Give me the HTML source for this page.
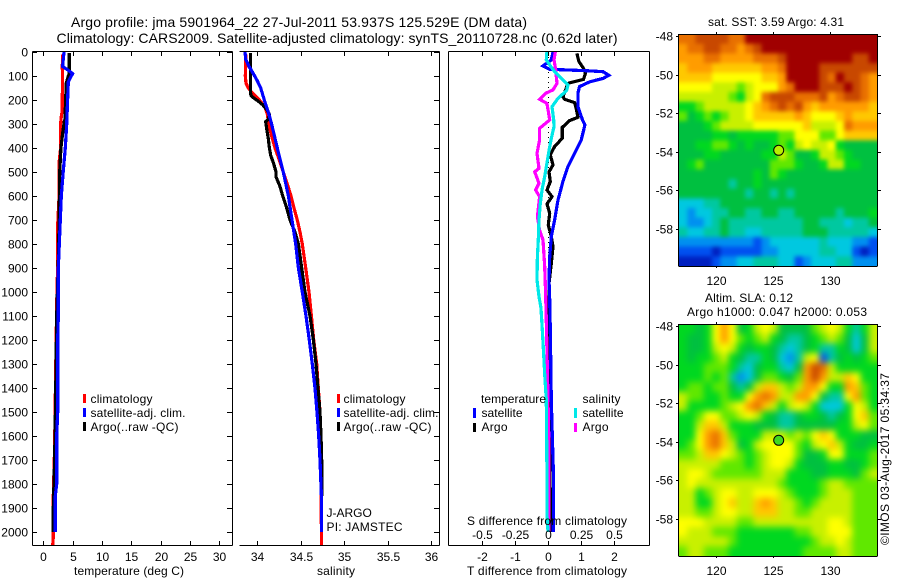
<!DOCTYPE html>
<html>
<head>
<meta charset="utf-8">
<title>Argo profile</title>
<style>
html,body{margin:0;padding:0;background:#fff;}
svg{display:block;}
text{font-family:"Liberation Sans",sans-serif;font-size:12px;fill:#000;}
.t{font-size:14px;}
</style>
</head>
<body>
<svg id="chart" xmlns="http://www.w3.org/2000/svg" width="900" height="580" viewBox="0 0 900 580">
<defs>
<clipPath id="clipA"><rect x="679" y="34" width="198" height="232"/></clipPath>
<clipPath id="clipB"><rect x="679" y="324" width="198" height="232"/></clipPath>
<filter id="softA" x="-5%" y="-5%" width="110%" height="110%" color-interpolation-filters="sRGB"><feGaussianBlur stdDeviation="2"/></filter>
<filter id="softB" x="-5%" y="-5%" width="110%" height="110%" color-interpolation-filters="sRGB"><feGaussianBlur stdDeviation="3.5"/></filter>
</defs>
<rect x="0" y="0" width="900" height="580" fill="#fff"/>
<text class="t" x="299" y="27" text-anchor="middle" textLength="456">Argo profile: jma 5901964_22 27-Jul-2011 53.937S 125.529E (DM data)</text>
<text class="t" x="337" y="43" text-anchor="middle" textLength="561">Climatology: CARS2009. Satellite-adjusted climatology: synTS_20110728.nc (0.62d later)</text>

<g id="p1"></g>
<g id="p2"></g>
<g id="p3"></g>
<g id="m1"></g>
<g id="m2"></g>

<text x="129" y="575" text-anchor="middle" textLength="110">temperature (deg C)</text>
<text x="336" y="575" text-anchor="middle" textLength="38">salinity</text>
<text x="547" y="575" text-anchor="middle" textLength="160">T difference from climatology</text>
<text x="547" y="525" text-anchor="middle" textLength="160">S difference from climatology</text>

<g>
<rect x="83" y="394" width="3" height="9" fill="#f00"/>
<text x="90.5" y="403" textLength="62">climatology</text>
<rect x="83" y="408" width="3" height="9" fill="#00f"/>
<text x="90.5" y="417" textLength="95">satellite-adj. clim.</text>
<rect x="83" y="422" width="3" height="9" fill="#000"/>
<text x="90.5" y="431" textLength="88">Argo(..raw -QC)</text>
</g>
<g>
<rect x="337" y="394" width="3" height="9" fill="#f00"/>
<text x="343.5" y="403" textLength="62">climatology</text>
<rect x="337" y="408" width="3" height="9" fill="#00f"/>
<text x="343.5" y="417" textLength="95">satellite-adj. clim.</text>
<rect x="337" y="422" width="3" height="9" fill="#000"/>
<text x="343.5" y="431" textLength="88">Argo(..raw -QC)</text>
</g>
<text x="326.5" y="517">J-ARGO</text>
<text x="326.5" y="531" textLength="76">PI: JAMSTEC</text>
<g>
<text x="481" y="403" textLength="65">temperature</text>
<rect x="473" y="408" width="3" height="10" fill="#00f"/>
<text x="481.5" y="417" textLength="41">satellite</text>
<rect x="473" y="423" width="3" height="9" fill="#000"/>
<text x="481.5" y="431" textLength="26">Argo</text>
<text x="582.5" y="403" textLength="38">salinity</text>
<rect x="574" y="408" width="3" height="10" fill="#00e8e8"/>
<text x="582.5" y="417" textLength="41">satellite</text>
<rect x="574" y="423" width="3" height="9" fill="#f0f"/>
<text x="582.5" y="431" textLength="26">Argo</text>
</g>

<text x="776" y="26" text-anchor="middle" textLength="136">sat. SST: 3.59 Argo: 4.31</text>
<text x="749" y="302" text-anchor="middle" textLength="88">Altim. SLA: 0.12</text>
<text x="777" y="316" text-anchor="middle" textLength="180">Argo h1000: 0.047 h2000: 0.053</text>
<text transform="translate(889,545) rotate(-90)" textLength="172">©IMOS 03-Aug-2017 05:34:37</text>
</svg>
<script>
// ---------- profile data ----------
var depthTicks = [0,100,200,300,400,500,600,700,800,900,1000,1100,1200,1300,1400,1500,1600,1700,1800,1900,2000];
var tempTicks = [0,5,10,15,20,25,30];
var salTicks = [34,34.5,35,35.5,36];
var salTickLabels = ['34','34.5','35','35.5','36'];
var tDiffTicks = [-2,-1,0,1,2];
var sDiffTickLabels = ['-0.5','-0.25','0','0.25','0.5'];
var sDiffTicks = [-0.5,-0.25,0,0.25,0.5];
var lonTicks = [120,125,130];
var latTicks = [-48,-50,-52,-54,-56,-58];

var tempClimZ = [10,60,100,250,260,300,400,460,600,720,880,1050,1350,1650,1850,2020,2055];
var tempClim = [3.3,3.25,3.27,3.22,3.1,2.95,2.95,2.7,2.7,2.45,2.45,2.28,2.1,1.93,1.7,1.7,1.6];
var tempSatZ = [0,60,75,90,105,125,200,300,400,500,600,700,900,1100,1200,1500,1600,1800,1850,2000];
var tempSat = [3.53,3.3,4.2,5.0,4.67,4.27,4.15,4.0,3.76,3.4,3.07,2.9,2.56,2.56,2.45,2.45,2.28,2.28,2.05,2.05];
var tempArgoZ = [5,90,100,130,200,280,290,340,400,500,700,880,1100,1450,1700,1900,2000];
var tempArgo = [4.44,4.44,4.27,3.92,3.8,3.7,3.58,3.3,3.0,2.8,2.7,2.56,2.28,2.1,1.93,1.7,1.7];

var salClimZ = [10,60,100,130,150,175,200,230,260,300,350,400,450,500,550,600,650,700,750,800,900,1000,1100,1200,1300,1400,1500,1700,2000,2055];
var salClim = [33.874,33.870,33.866,33.874,33.900,33.958,34.027,34.092,34.119,34.134,34.168,34.207,34.256,34.302,34.348,34.390,34.425,34.463,34.494,34.520,34.559,34.597,34.624,34.651,34.685,34.704,34.723,34.735,34.739,34.739];
var salSatZ = [0,30,60,90,120,150,200,250,300,400,500,600,700,800,900,1000,1100,1200,1300,1400,1500,1600,1700,1850,2000];
var salSat = [33.862,33.870,33.908,33.958,34.004,34.042,34.084,34.130,34.168,34.233,34.302,34.360,34.402,34.444,34.475,34.520,34.563,34.601,34.635,34.666,34.689,34.708,34.723,34.739,34.739];
var salArgoZ = [5,170,180,190,205,220,240,260,280,290,320,360,400,430,470,500,520,560,600,650,700,750,800,900,1000,1100,1200,1300,1400,1500,1600,1750,1850];
var salArgo = [33.927,33.927,33.93,33.958,34.015,34.065,34.111,34.142,34.130,34.100,34.111,34.130,34.142,34.157,34.195,34.218,34.218,34.264,34.295,34.341,34.379,34.436,34.475,34.513,34.551,34.608,34.647,34.677,34.700,34.723,34.735,34.746,34.746];

var dTSatZ = [0,33,58,72,78,82,97,110,124,144,172,228,283,304,367,422,478,540,617,700,769,853,950,1033,1158,1450,1554,1783,2000];
var dTSat = [0.15,0.10,-0.15,0.05,1.16,1.66,1.83,1.66,1.26,0.95,0.90,0.90,1.04,1.11,1.0,0.80,0.60,0.45,0.30,0.20,0.10,0.05,0.03,0.05,0.07,0.10,0.12,0.17,0.16];
var dTArgoZ = [6,40,68,89,114,128,131,158,186,197,211,236,272,286,314,359,394,428,471,499,540,575,603,633,672,721,769,811,881,964,1061,1200,1550,1900,2000];
var dTArgo = [0.87,0.93,1.07,1.13,1.07,0.67,0.60,0.53,0.45,0.50,0.80,0.85,0.90,0.65,0.43,0.43,0.20,0.07,0.15,0.03,0.07,-0.03,0.12,-0.03,0.05,0.01,0.10,0.15,0.10,0.03,0.03,0.04,0.05,0.07,0.07];
var dSSatZ = [0,33,54,82,110,138,161,193,228,283,311,360,408,464,519,568,631,700,783,853,950,1019,1068,1158,1255,1358,1450,1728,1922,2000];
var dSSat = [-0.008,-0.013,0.013,0.05,0.10,0.15,0.14,0.075,0.03,0.043,0.045,0.025,0.008,-0.008,-0.025,-0.043,-0.058,-0.068,-0.073,-0.08,-0.083,-0.068,-0.053,-0.043,-0.033,-0.023,-0.013,-0.008,-0.008,0];
var dSArgoZ = [0,33,75,131,158,172,197,214,249,283,318,367,422,485,499,547,575,603,686,742,783,894,1006,1117,1311,1589,1839,2000];
var dSArgo = [0.055,0.045,0.058,0.068,0.038,-0.018,-0.063,-0.008,0.003,0.013,-0.063,-0.063,-0.083,-0.068,-0.1,-0.068,-0.093,-0.063,-0.08,-0.063,-0.038,-0.025,-0.018,-0.013,-0.005,0.005,0.008,0.008];
var zeroLineZ = [0,1000];

// ---------- map data (colour-class per cell, north to south) ----------
var sstGrid = [
[12,12,13,13,13,13,12,12,14,14,14,14,14,14,14,14,14,14,14,14,14,14,14,14],
[11,12,12,13,13,12,12,11,12,13,14,14,14,14,14,14,14,14,14,14,14,14,14,14],
[11,11,11,12,12,11,11,11,11,12,12,12,13,14,14,14,14,14,14,14,14,13,13,14],
[10,11,11,11,10,10,10,10,10,10,11,11,12,14,14,14,14,13,13,13,13,13,13,13],
[10,10,10,10,9,9,9,9,9,9,10,10,11,14,14,14,14,13,12,14,13,13,12,11],
[9,9,9,9,8,8,8,7,8,9,9,9,11,12,14,14,14,13,13,13,14,13,12,11],
[8,8,8,8,8,8,7,6,8,9,12,13,13,13,12,12,12,13,11,12,13,13,12,11],
[6,6,7,8,8,8,8,8,9,10,11,12,13,12,13,11,10,11,11,11,11,11,11,10],
[7,5,6,7,6,7,8,8,9,10,10,10,10,10,11,10,9,9,9,10,11,10,10,10],
[5,5,5,6,7,8,8,8,8,9,9,9,9,9,9,10,8,8,8,9,12,11,11,11],
[5,5,5,5,6,6,5,6,6,6,6,6,7,7,9,9,9,7,7,9,10,10,10,10],
[5,5,6,6,7,7,6,5,6,5,5,6,7,6,8,9,8,8,9,6,5,5,5,5],
[5,5,5,6,6,5,5,5,5,5,6,6,8,7,5,5,6,8,8,7,6,5,5,5],
[5,6,7,5,5,5,5,5,5,5,5,7,7,7,6,5,5,6,8,8,6,6,5,5],
[5,5,5,5,5,5,5,5,5,6,5,7,6,5,5,5,5,5,5,5,5,5,5,5],
[5,5,5,5,5,5,4,5,5,6,5,5,5,5,5,5,5,5,5,5,5,5,5,5],
[5,5,5,5,5,5,5,5,4,5,5,4,5,4,5,5,5,5,5,5,5,5,5,5],
[3,3,3,4,4,5,5,5,5,5,5,5,5,5,5,5,5,5,5,5,5,5,5,5],
[3,2,3,3,4,4,5,5,4,4,5,5,4,4,5,5,5,5,5,4,5,5,5,6],
[3,2,2,3,4,5,4,4,4,4,4,4,4,4,4,5,5,4,4,4,3,4,4,5],
[4,3,3,4,4,5,4,4,3,3,4,4,4,4,4,5,5,5,4,4,4,4,4,3],
[2,2,2,2,2,2,2,2,2,1,2,3,3,3,3,3,3,4,3,3,3,2,2,1],
[1,1,1,1,0,1,1,1,1,1,2,2,3,3,3,3,3,4,4,3,3,1,0,1],
[0,0,0,0,1,2,2,3,3,4,4,4,3,3,1,2,3,3,3,4,4,2,2,2]
];
var slaGrid = [
[6,6,5,6,9,11,9,5,6,8,9,8,5,5,5,5,7,8,9,8,6,4,6,8],
[6,5,5,6,9,11,9,7,6,7,8,6,5,4,4,5,6,7,8,7,5,3,5,8],
[6,5,5,6,8,9,8,6,5,6,6,5,4,3,4,5,6,4,4,6,5,3,5,8],
[6,5,6,6,7,8,6,5,4,4,6,5,3,2,4,8,9,1,4,5,6,5,6,7],
[6,6,6,7,7,7,6,4,3,5,6,6,4,3,5,11,13,12,8,6,6,6,6,6],
[6,6,6,7,6,7,4,2,3,5,7,7,6,5,7,11,13,11,8,8,10,9,6,6],
[6,7,7,6,7,7,5,4,5,8,10,10,8,7,8,11,11,9,6,6,11,10,7,6],
[8,7,7,6,6,7,6,6,9,11,12,11,8,8,11,11,9,5,4,4,9,11,7,6],
[8,6,6,6,6,7,8,9,11,12,10,8,6,8,9,8,6,3,3,3,6,9,8,6],
[6,6,7,9,9,7,7,8,9,8,6,5,4,4,5,6,6,5,4,5,6,9,10,7],
[6,6,8,10,10,8,6,6,6,5,5,5,4,4,5,5,5,5,5,6,6,8,9,7],
[6,6,9,11,12,10,7,6,6,6,8,8,8,7,8,7,9,10,9,6,6,6,5,5],
[6,7,9,11,12,10,8,5,6,8,9,9,9,9,7,6,8,9,10,8,6,5,5,6],
[7,7,8,10,10,9,8,7,6,7,8,9,9,9,7,5,5,6,9,9,6,6,6,7],
[8,8,8,8,8,7,7,7,6,7,8,9,9,8,6,5,5,5,6,6,5,5,6,7],
[8,9,9,8,7,7,7,7,7,7,8,8,8,6,6,6,5,5,6,6,6,5,7,8],
[8,9,8,8,8,8,8,8,8,8,8,8,7,6,6,6,6,7,8,8,7,7,7,7],
[8,8,6,7,8,9,9,8,8,9,9,9,8,7,6,6,6,7,8,8,8,7,7,7],
[8,8,6,6,8,9,10,8,8,10,11,10,8,8,7,6,7,8,8,8,8,7,7,7],
[8,8,7,7,8,9,9,8,8,10,10,10,8,8,7,7,8,8,8,8,8,7,7,7],
[9,9,9,8,8,8,8,7,7,8,8,8,8,8,8,8,8,8,9,9,8,7,7,7],
[9,8,8,8,7,7,7,6,6,6,6,6,6,6,7,7,8,8,9,9,9,7,7,7],
[8,8,8,8,8,8,7,6,6,6,6,6,6,6,6,6,7,8,8,9,8,7,7,7],
[7,8,8,7,7,7,6,6,6,6,6,6,6,6,6,7,7,7,7,8,8,7,7,7]
];
var colorClasses = ['#0020c0','#0050f0','#0090f0','#00c8e0','#00c8a0','#00c040','#00d820','#60e800','#c8f000','#ffff00','#ffc800','#ff9c00','#e87000','#c84800','#a00000'];
var profileLon = [125.529];
var profileLat = [-53.937];

// ---------- helpers ----------
var NS = 'http://www.w3.org/2000/svg';
function mk(parent, tag, attrs, txt){
  var el = document.createElementNS(NS, tag);
  for (var k in attrs) el.setAttribute(k, attrs[k]);
  if (txt !== undefined) el.textContent = txt;
  parent.appendChild(el);
  return el;
}
function yDepth(z){ return 52 + z * 0.24; }
function xTemp(v){ return 43.3 + v * 5.86; }
function xSal(v){ return 257 + (v - 34) * 87.1; }
function xDT(v){ return 548 + v * 33.2; }
function xDS(v){ return 548 + v * 132.8; }
function xLon(v){ return 715.7 + (v - 120) * 11.4; }
function yLat(v, top){ return top + 2 + (-48 - v) * 19.25; }

function line(g, x1, y1, x2, y2, name){
  var l = mk(g, 'line', {x1:x1, y1:y1, x2:x2, y2:y2, stroke:'#000', 'stroke-width':1, 'shape-rendering':'crispEdges'});
  
  
  return l;
}
function label(g, x, y, s, anchor, name){
  var t = mk(g, 'text', {x:x, y:y, 'text-anchor':anchor}, s);
  
  
  return t;
}
function series(g, zs, vs, xf, color, name){
  var pts = [];
  for (var i = 0; i < vs.length; i++) pts.push(xf(vs[i]).toFixed(1) + ',' + yDepth(zs[i]).toFixed(1));
  var p = mk(g, 'polyline', {points:pts.join(' '), fill:'none', stroke:color, 'stroke-width':3.2, 'stroke-linejoin':'miter', 'shape-rendering':'crispEdges'});
  
  
  return p;
}
function frame(g, L, R, hasLeft){
  var T = 51.5, B = 545.5;
  line(g, L, T, R, T, 'panel-top-edge');
  line(g, L, B, R, B, 'panel-bottom-edge');
  line(g, R, T, R, B, 'panel-right-edge');
  if (hasLeft) line(g, L, T, L, B, 'panel-left-edge');
}

// ---------- panel 1 ----------
var p1 = document.getElementById('p1');
series(p1, tempClimZ, tempClim, xTemp, '#f00', 'temperature-climatology-line');
series(p1, tempArgoZ, tempArgo, xTemp, '#000', 'temperature-argo-line');
series(p1, tempSatZ, tempSat, xTemp, '#00f', 'temperature-satellite-line');
frame(p1, 32.5, 232.5, true);
depthTicks.forEach(function(d){
  var y = Math.round(yDepth(d)) + 0.5;
  line(p1, 32, y, 37, y, 'depth-tick');
  line(p1, 232, y, 227, y, 'depth-tick');
  label(p1, 28, y + 4, String(d), 'end', 'depth-tick-label');
});
tempTicks.forEach(function(v){
  var x = Math.round(xTemp(v)) + 0.5;
  line(p1, x, 52, x, 56, 'temperature-tick');
  line(p1, x, 545, x, 541, 'temperature-tick');
  label(p1, x, 561, String(v), 'middle', 'temperature-tick-label');
});

// ---------- panel 2 ----------
var p2 = document.getElementById('p2');
series(p2, salClimZ, salClim, xSal, '#f00', 'salinity-climatology-line');
series(p2, salArgoZ, salArgo, xSal, '#000', 'salinity-argo-line');
series(p2, salSatZ, salSat, xSal, '#00f', 'salinity-satellite-line');
frame(p2, 239.5, 439.5, false);
depthTicks.forEach(function(d){
  var y = Math.round(yDepth(d)) + 0.5;
  line(p2, 439, y, 434, y, 'depth-tick');
});
salTicks.forEach(function(v, i){
  var x = Math.round(xSal(v)) + 0.5;
  line(p2, x, 52, x, 56, 'salinity-tick');
  line(p2, x, 545, x, 541, 'salinity-tick');
  label(p2, x, 561, salTickLabels[i], 'middle', 'salinity-tick-label');
});

// ---------- panel 3 ----------
var p3 = document.getElementById('p3');
var zl = mk(p3, 'line', {x1:xDT(0)+0.5, y1:yDepth(zeroLineZ[0]), x2:xDT(0)+0.5, y2:yDepth(zeroLineZ[1]), stroke:'#000', 'stroke-width':1, 'stroke-dasharray':'1 4'});


series(p3, dTArgoZ, dTArgo, xDT, '#000', 't-diff-argo-line');
series(p3, dTSatZ, dTSat, xDT, '#00f', 't-diff-satellite-line');
series(p3, dSArgoZ, dSArgo, xDS, '#f0f', 's-diff-argo-line');
series(p3, dSSatZ, dSSat, xDS, '#00e8e8', 's-diff-satellite-line');
frame(p3, 448.5, 649.5, true);
tDiffTicks.forEach(function(v){
  var x = Math.round(xDT(v)) + 0.5;
  line(p3, x, 52, x, 56, 't-diff-tick');
  line(p3, x, 545, x, 541, 't-diff-tick');
  label(p3, x, 561, String(v), 'middle', 't-diff-tick-label');
});
sDiffTicks.forEach(function(v, i){
  var x = Math.round(xDS(v)) + 0.5;
  label(p3, x, 539, sDiffTickLabels[i], 'middle', 's-diff-tick-label');
});

// ---------- maps ----------
function drawMap(id, grid, top, clipId, filterId, markerColor){
  var g = document.getElementById(id);
  var L = 679, W = 198, H = 232;
  var clip = mk(g, 'g', {'clip-path':'url(#' + clipId + ')'});
  var soft = mk(clip, 'g', {filter:'url(#' + filterId + ')'});
  var rows = grid.length, cols = grid[0].length;
  var cw = W / cols, ch = H / rows;
  for (var r = 0; r < rows; r++){
    for (var c = 0; c < cols; c++){
      var x = L + c * cw, y = top + r * ch;
      var pad = 10;
      var cell = mk(soft, 'rect', {
        x: (c === 0 ? x - pad : x).toFixed(2),
        y: (r === 0 ? y - pad : y).toFixed(2),
        width: (cw + 0.5 + (c === 0 || c === cols - 1 ? pad : 0)).toFixed(2),
        height: (ch + 0.5 + (r === 0 || r === rows - 1 ? pad : 0)).toFixed(2),
        fill: colorClasses[grid[r][c]]
      });
      
      
    }
  }
  var R = L + W, B = top + H;
  line(g, L - 0.5, top + 0.5, R + 0.5, top + 0.5, 'map-top-edge');
  line(g, L - 0.5, B + 0.5, R + 0.5, B + 0.5, 'map-bottom-edge');
  line(g, L - 0.5, top, L - 0.5, B, 'map-left-edge');
  line(g, R + 0.5, top, R + 0.5, B, 'map-right-edge');
  lonTicks.forEach(function(v){
    var x = Math.round(xLon(v)) + 0.5;
    line(g, x, top - 2, x, top + 1, 'longitude-tick');
    line(g, x, B + 2, x, B, 'longitude-tick');
    label(g, x, B + 19, String(v), 'middle', 'longitude-tick-label');
  });
  latTicks.forEach(function(v){
    var y = Math.round(yLat(v, top)) + 0.5;
    line(g, L - 3, y, L, y, 'latitude-tick');
    line(g, R + 4, y, R, y, 'latitude-tick');
    label(g, 673, y + 4, String(v), 'end', 'latitude-tick-label');
  });
  var dot = mk(g, 'circle', {cx:xLon(profileLon[0]).toFixed(1), cy:yLat(profileLat[0], top).toFixed(1), r:5, fill:markerColor, stroke:'#000', 'stroke-width':1});
  
  
}
drawMap('m1', sstGrid, 34, 'clipA', 'softA', '#b8f000');
drawMap('m2', slaGrid, 324, 'clipB', 'softB', '#40d820');
</script>
</body>
</html>
